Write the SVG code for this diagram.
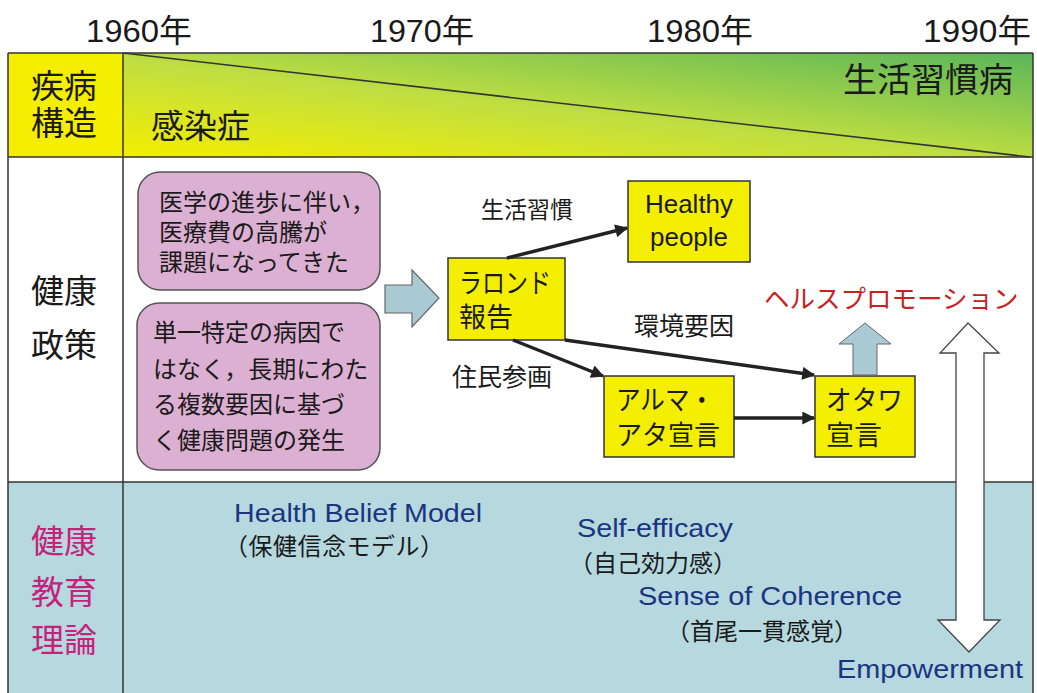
<svg xmlns="http://www.w3.org/2000/svg" width="1037" height="693" viewBox="0 0 1037 693">
<defs>
<style>
text{font-family:"Liberation Sans","Noto Sans CJK JP",sans-serif;fill:#1a1a1a}
.yr{font-size:32px}
.hd{font-size:33px}
.pk{font-size:24px}
.nd{font-size:27px}
.lb{font-size:25px}
.th{font-size:25px;fill:#1b3580}
.sub{font-size:24px}
.box{fill:#f4ee00;stroke:#333;stroke-width:1.5}
.pink{fill:#dcb0d3;stroke:#555;stroke-width:1.5}
.con{stroke:#222;stroke-width:3.5;fill:none;marker-end:url(#ah)}
.grid{stroke:#333;stroke-width:1.5;fill:none}
</style>
<linearGradient id="band" x1="0" y1="1" x2="1" y2="0">
<stop offset="0" stop-color="#f4ee00"/>
<stop offset="0.45" stop-color="#c2df40"/>
<stop offset="1" stop-color="#5ab65a"/>
</linearGradient>
<marker id="ah" viewBox="0 0 10 10" refX="9" refY="5" markerUnits="userSpaceOnUse" markerWidth="16" markerHeight="13" orient="auto">
<path d="M0,0 L10,5 L0,10 z" fill="#222"/>
</marker>
</defs>
<rect width="1037" height="693" fill="#ffffff"/>
<g id="years">
<text class="yr" x="86" y="42" textLength="106" lengthAdjust="spacingAndGlyphs">1960年</text>
<text class="yr" x="370" y="42" textLength="104" lengthAdjust="spacingAndGlyphs">1970年</text>
<text class="yr" x="647" y="42" textLength="106" lengthAdjust="spacingAndGlyphs">1980年</text>
<text class="yr" x="923" y="42" textLength="108" lengthAdjust="spacingAndGlyphs">1990年</text>
</g>
<g id="table">
<rect x="8" y="53" width="115" height="104" fill="#f4ee00"/>
<rect x="123" y="53" width="910" height="104" fill="url(#band)"/>
<rect x="8" y="482" width="1025" height="211" fill="#b6d8df"/>
<line class="grid" x1="123" y1="53" x2="1030" y2="157"/>
<line class="grid" x1="8" y1="53" x2="1033" y2="53"/>
<line class="grid" x1="8" y1="157" x2="1033" y2="157"/>
<line class="grid" x1="8" y1="482" x2="1033" y2="482"/>
<line class="grid" x1="8" y1="53" x2="8" y2="693"/>
<line class="grid" x1="123" y1="53" x2="123" y2="693"/>
<line class="grid" x1="1033" y1="53" x2="1033" y2="693"/>
</g>
<g id="row-labels">
<text class="hd" x="31" y="98">疾病</text>
<text class="hd" x="31" y="135">構造</text>
<text class="hd" x="151" y="138">感染症</text>
<text class="hd" x="843" y="92" style="font-size:34px">生活習慣病</text>
<text class="hd" x="31" y="303">健康</text>
<text class="hd" x="31" y="357">政策</text>
<text class="hd" x="31" y="553" style="fill:#c4237c">健康</text>
<text class="hd" x="31" y="604" style="fill:#c4237c">教育</text>
<text class="hd" x="31" y="652" style="fill:#c4237c">理論</text>
</g>
<g id="pink1">
<rect class="pink" x="138" y="172" width="242" height="118" rx="22"/>
<text class="pk" x="159" y="211">医学の進歩に伴い，</text>
<text class="pk" x="159" y="241">医療費の高騰が</text>
<text class="pk" x="159" y="271">課題になってきた</text>
</g>
<g id="pink2">
<rect class="pink" x="137" y="303" width="243" height="167" rx="22"/>
<text class="pk" x="153" y="341">単一特定の病因で</text>
<text class="pk" x="153" y="378">はなく，長期にわた</text>
<text class="pk" x="153" y="413">る複数要因に基づ</text>
<text class="pk" x="153" y="449">く健康問題の発生</text>
</g>
<g id="block-arrow">
<path d="M385,285 L412,285 L412,270 L439,298 L412,327 L412,313 L385,313 Z" fill="#a9c9d3" stroke="#666" stroke-width="1.2"/>
</g>
<g id="lalonde">
<rect class="box" x="448" y="258" width="117" height="82"/>
<text class="nd" x="459" y="293" textLength="92" lengthAdjust="spacingAndGlyphs">ラロンド</text>
<text class="nd" x="459" y="327">報告</text>
</g>
<g id="healthy">
<rect class="box" x="628" y="181" width="122" height="81"/>
<text x="645" y="213" textLength="88" lengthAdjust="spacingAndGlyphs" style="font-size:25px">Healthy</text>
<text x="650" y="246" textLength="78" lengthAdjust="spacingAndGlyphs" style="font-size:25px">people</text>
</g>
<g id="alma">
<rect class="box" x="604" y="376" width="130" height="81"/>
<text class="nd" x="616" y="410" textLength="98" lengthAdjust="spacingAndGlyphs">アルマ・</text>
<text class="nd" x="616" y="445" textLength="104" lengthAdjust="spacingAndGlyphs">アタ宣言</text>
</g>
<g id="ottawa">
<rect class="box" x="815" y="376" width="100" height="81"/>
<text class="nd" x="826" y="410" textLength="77" lengthAdjust="spacingAndGlyphs">オタワ</text>
<text class="nd" x="826" y="445" textLength="56" lengthAdjust="spacingAndGlyphs">宣言</text>
</g>
<g id="healthpromo">
<text x="764" y="308" style="font-size:25.5px;fill:#c8211f">ヘルスプロモーション</text>
</g>
<g id="up-arrow">
<path d="M853,375 L853,344 L839,344 L865,323 L891,344 L877,344 L877,375 Z" fill="#a9c9d3" stroke="#666" stroke-width="1"/>
</g>
<g id="double-arrow">
<path d="M968,323 L999,353 L984,353 L984,620 L1000,620 L969,652 L938,620 L956,620 L956,353 L940,353 Z" fill="#ffffff" stroke="#444" stroke-width="1.3"/>
</g>
<g id="connectors">
<line class="con" x1="507" y1="258" x2="627" y2="228"/>
<line class="con" x1="513" y1="340" x2="603" y2="376"/>
<line class="con" x1="565" y1="340" x2="814" y2="375"/>
<line class="con" x1="734" y1="418" x2="814" y2="418"/>
</g>
<g id="conn-labels">
<text class="lb" x="481" y="218" style="font-size:23px">生活習慣</text>
<text class="lb" x="634" y="335">環境要因</text>
<text class="lb" x="452" y="386">住民参画</text>
</g>
<g id="theories">
<text class="th" x="234" y="522" textLength="248" lengthAdjust="spacingAndGlyphs">Health Belief Model</text>
<text class="sub" x="224" y="555" textLength="220">（保健信念モデル）</text>
<text class="th" x="577" y="537" textLength="156" lengthAdjust="spacingAndGlyphs">Self-efficacy</text>
<text class="sub" x="569" y="572">（自己効力感）</text>
<text class="th" x="638" y="605" textLength="264" lengthAdjust="spacingAndGlyphs">Sense of Coherence</text>
<text class="sub" x="666" y="640">（首尾一貫感覚）</text>
<text class="th" x="837" y="678" textLength="186" lengthAdjust="spacingAndGlyphs">Empowerment</text>
</g>
</svg>
